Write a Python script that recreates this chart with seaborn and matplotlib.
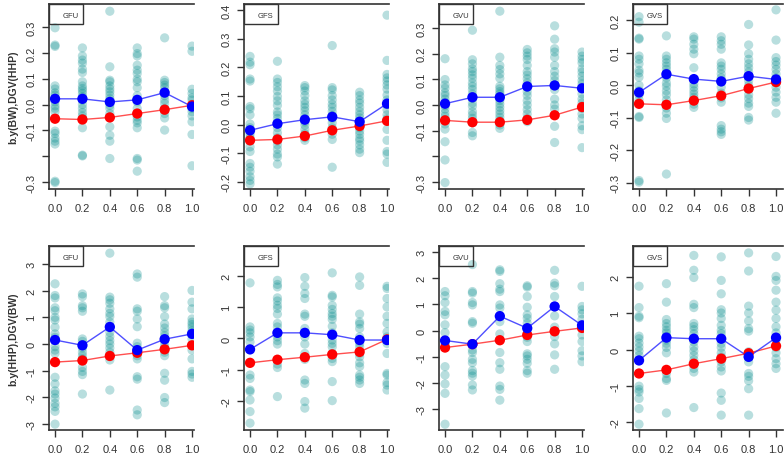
import numpy as np
import pandas as pd
import matplotlib
matplotlib.use("Agg")
import matplotlib.pyplot as plt
import seaborn as sns
from matplotlib.patches import Rectangle

# x levels shared by every panel
levels = [0.0, 0.2, 0.4, 0.6, 0.8, 1.0]
groups = ["GFU", "GFS", "GVU", "GVS"]

# ---- top row: b.y(BW),DGV(HHP) ----
top_gfu = [
    [0.297, 0.23, 0.225, 0.072, 0.060, 0.045, 0.036, 0.023, 0.010, -0.005, -0.015, -0.028, -0.103, -0.112, -0.130, -0.142, -0.153, -0.297, -0.302],
    [0.219, 0.188, 0.172, 0.16, 0.137, 0.124, 0.088, 0.072, 0.062, 0.054, 0.043, 0.03, 0.017, 0.0, -0.015, -0.031, -0.044, -0.054, -0.09, -0.196, -0.199],
    [0.361, 0.146, 0.094, 0.088, 0.072, 0.06, 0.049, 0.036, 0.023, 0.01, -0.003, -0.015, -0.035, -0.048, -0.086, -0.119, -0.142, -0.209],
    [0.219, 0.197, 0.188, 0.152, 0.133, 0.12, 0.098, 0.088, 0.065, 0.034, 0.01, -0.015, -0.048, -0.061, -0.071, -0.09, -0.209, -0.215, -0.258],
    [0.258, 0.094, 0.085, 0.075, 0.065, 0.049, 0.034, 0.017, 0.004, -0.015, -0.035, -0.052, -0.099],
    [0.226, 0.206, 0.059, 0.043, 0.026, 0.017, 0.0, -0.015, -0.028, -0.044, -0.067, -0.116, -0.237],
]
top_gfs = [
    [0.238, 0.218, 0.209, 0.159, 0.152, 0.063, 0.055, 0.034, 0.002, -0.011, -0.023, -0.034, -0.046, -0.057, -0.078, -0.094, -0.136, -0.149, -0.163, -0.182, -0.195, -0.207],
    [0.221, 0.159, 0.147, 0.132, 0.117, 0.098, 0.083, 0.067, 0.044, 0.034, 0.021, 0.006, -0.011, -0.029, -0.046, -0.057, -0.071, -0.086, -0.103, -0.113, -0.138],
    [0.136, 0.129, 0.117, 0.101, 0.083, 0.071, 0.06, 0.048, 0.034, 0.021, 0.009, -0.002, -0.017, -0.032, -0.046, -0.055],
    [0.276, 0.129, 0.121, 0.101, 0.086, 0.071, 0.06, 0.046, 0.032, 0.021, 0.006, -0.011, -0.034, -0.052, -0.149],
    [0.113, 0.101, 0.086, 0.075, 0.06, 0.046, 0.034, 0.023, 0.011, 0.0, -0.011, -0.023, -0.034, -0.048, -0.057, -0.071, -0.086, -0.098],
    [0.382, 0.224, 0.175, 0.163, 0.152, 0.138, 0.124, 0.103, 0.086, 0.069, 0.052, 0.034, 0.021, -0.017, -0.055, -0.094, -0.103, -0.132],
]
top_gvu = [
    [0.18, 0.099, 0.078, 0.065, 0.047, 0.037, 0.023, 0.01, -0.003, -0.016, -0.031, -0.044, -0.057, -0.074, -0.094, -0.143, -0.214, -0.302],
    [0.291, 0.176, 0.16, 0.141, 0.13, 0.117, 0.104, 0.086, 0.073, 0.06, 0.043, 0.026, 0.008, -0.005, -0.026, -0.039, -0.052, -0.07, -0.107, -0.12],
    [0.365, 0.186, 0.154, 0.138, 0.121, 0.104, 0.073, 0.063, 0.052, 0.043, 0.03, 0.017, 0.004, -0.009, -0.022, -0.035, -0.048, -0.061, -0.078, -0.091],
    [0.216, 0.203, 0.19, 0.177, 0.154, 0.13, 0.117, 0.102, 0.086, 0.069, 0.052, 0.037, 0.017, 0.0, -0.018, -0.035, -0.052, -0.065],
    [0.308, 0.256, 0.219, 0.206, 0.186, 0.154, 0.13, 0.112, 0.095, 0.078, 0.06, 0.023, 0.0, -0.016, -0.083, -0.146],
    [0.206, 0.19, 0.177, 0.164, 0.141, 0.128, 0.112, 0.095, 0.082, 0.065, 0.043, 0.023, 0.008, -0.013, -0.035, -0.052, -0.081, -0.096, -0.166],
]
top_gvs = [
    [0.211, 0.194, 0.145, 0.142, 0.09, 0.08, 0.066, 0.046, 0.038, 0.025, 0.0, -0.017, -0.029, -0.045, -0.096, -0.099, -0.293, -0.298],
    [0.152, 0.09, 0.08, 0.069, 0.059, 0.049, 0.038, 0.023, 0.007, -0.003, -0.017, -0.029, -0.045, -0.058, -0.07, -0.086, -0.102, -0.273],
    [0.149, 0.142, 0.126, 0.111, 0.097, 0.054, 0.018, 0.004, -0.006, -0.017, -0.027, -0.037, -0.048, -0.058, -0.068],
    [0.149, 0.137, 0.126, 0.111, 0.069, 0.059, 0.049, 0.035, 0.023, 0.01, -0.006, -0.024, -0.039, -0.052, -0.124, -0.135, -0.143, -0.151],
    [0.187, 0.124, 0.097, 0.08, 0.066, 0.054, 0.041, 0.025, 0.014, 0.0, -0.013, -0.029, -0.041, -0.055, -0.065, -0.099, -0.107],
    [0.232, 0.139, 0.085, 0.073, 0.062, 0.049, 0.035, 0.023, 0.007, -0.006, -0.021, -0.037, -0.052, -0.086],
]
top_blue = {
    "GFU": [0.022, 0.022, 0.010, 0.018, 0.046, -0.008],
    "GFS": [-0.020, 0.003, 0.017, 0.027, 0.010, 0.073],
    "GVU": [0.005, 0.030, 0.030, 0.072, 0.076, 0.065],
    "GVS": [-0.022, 0.034, 0.019, 0.012, 0.028, 0.018],
}
top_red = {
    "GFU": [-0.055, -0.058, -0.050, -0.035, -0.020, -0.003],
    "GFS": [-0.055, -0.052, -0.040, -0.020, -0.005, 0.013],
    "GVU": [-0.060, -0.067, -0.067, -0.058, -0.040, -0.008],
    "GVS": [-0.057, -0.060, -0.047, -0.032, -0.010, 0.010],
}

# ---- bottom row: b.y(HHP),DGV(BW) ----
bot_gfu = [
    [2.26, 1.82, 1.73, 1.36, 1.25, 1.0, 0.9, 0.63, 0.38, 0.25, 0.13, -0.1, -0.23, -0.35, -1.25, -1.5, -1.76, -1.88, -2.03, -2.23, -2.36, -2.53, -3.01],
    [1.88, 1.78, 1.44, 1.36, 1.23, 0.19, 0.1, -0.03, -0.15, -0.31, -0.44, -0.56, -0.88, -1.03, -1.15, -1.88],
    [3.41, 1.76, 1.66, 1.53, 1.32, 1.15, 1.03, 0.82, 0.63, 0.44, 0.28, 0.13, 0.0, -0.15, -0.31, -0.44, -0.6, -1.73],
    [2.63, 2.51, 1.32, 1.23, 0.94, 0.65, 0.03, -0.1, -0.28, -0.44, -0.56, -1.23, -1.32, -2.48, -2.66],
    [1.78, 1.44, 1.36, 1.03, 0.75, 0.6, 0.44, 0.31, 0.15, 0.0, -0.13, -0.31, -0.44, -1.1, -1.36, -2.01, -2.2],
    [2.01, 1.57, 1.32, 0.94, 0.82, 0.73, 0.63, 0.5, 0.35, 0.19, -0.06, -0.23, -0.56, -1.03, -1.13, -1.25],
]
bot_gfs = [
    [1.78, 0.37, 0.27, 0.18, 0.05, -0.11, -1.17, -1.28, -1.65, -1.7, -1.97, -2.34, -2.71],
    [1.86, 1.73, 1.65, 1.3, 1.2, 1.06, 0.96, 0.78, 0.48, 0.37, 0.05, -0.07, -0.18, -0.82, -0.93, -1.86],
    [1.95, 1.67, 1.44, 1.28, 0.78, 0.71, 0.32, 0.18, 0.05, -0.18, -0.48, -0.67, -1.33, -1.44, -2.02, -2.23],
    [2.1, 1.38, 1.33, 1.06, 0.93, 0.8, 0.71, 0.61, 0.39, 0.18, -0.05, -0.16, -0.27, -0.48, -0.64, -0.74, -1.38, -1.99],
    [1.97, 1.7, 0.78, 0.53, 0.46, 0.32, 0.05, -0.05, -0.16, -0.27, -0.48, -0.59, -0.78, -0.9, -1.17, -1.24, -1.33, -1.44],
    [1.67, 1.6, 1.28, 1.01, 0.71, 0.48, 0.21, 0.05, -0.16, -0.48, -1.12, -1.17, -1.41, -1.49, -1.65],
]
bot_gvu = [
    [1.49, 1.33, 1.07, 0.73, 0.6, 0.22, -0.08, -0.49, -1.38, -1.7, -2.04, -2.4, -3.58],
    [2.52, 1.49, 1.43, 1.07, 0.98, 0.34, 0.28, -0.74, -0.84, -1.1, -1.23, -1.53, -1.63, -1.74, -2.08, -2.27],
    [2.32, 2.26, 1.79, 1.58, 1.49, 0.98, 0.86, 0.34, -0.13, -0.36, -0.84, -1.23, -1.48, -2.12, -2.25, -2.66],
    [1.71, 1.66, 1.3, 0.89, 0.6, 0.47, 0.28, 0.09, -0.1, -0.26, -0.42, -0.89, -0.97, -1.1, -1.25, -1.53, -1.63],
    [2.3, 1.81, 1.71, 1.3, 0.92, 0.56, 0.13, -0.23, -0.51, -0.93, -1.48],
    [1.69, 0.92, 0.79, 0.64, 0.43, 0.15, -0.17, -0.42, -0.77, -0.97, -1.19],
]
bot_gvs = [
    [1.75, 1.16, 0.92, 0.88, 0.37, 0.3, 0.18, 0.07, -0.04, -0.16, -0.28, -1.01, -1.1, -1.17, -1.35, -1.63, -2.06],
    [1.82, 1.31, 0.83, 0.72, 0.63, 0.53, 0.46, 0.37, 0.26, 0.17, 0.06, -0.09, -0.66, -0.8, -0.85, -1.75],
    [2.6, 2.19, 1.99, 1.25, 1.16, 0.72, 0.64, 0.55, 0.44, 0.3, 0.21, 0.07, -0.04, -0.16, -0.28, -0.39, -0.52, -0.62, -1.6],
    [2.56, 1.91, 1.54, 1.1, 1.01, 0.86, 0.67, 0.53, 0.44, 0.3, 0.17, 0.06, -0.09, -0.2, -0.34, -0.48, -0.59, -1.2, -1.4, -1.81],
    [2.67, 2.17, 1.2, 1.01, 0.79, 0.58, 0.51, -0.06, -0.22, -0.34, -0.66, -0.74, -0.86, -1.08, -1.81],
    [2.57, 2.02, 1.91, 1.64, 1.31, 1.09, 0.86, 0.63, 0.46, 0.26, 0.06, -0.09, -0.25, -0.39, -0.52],
]
bot_blue = {
    "GFU": [0.15, -0.05, 0.64, -0.23, 0.18, 0.38],
    "GFS": [-0.35, 0.18, 0.18, 0.12, -0.05, -0.05],
    "GVU": [-0.38, -0.52, 0.55, 0.09, 0.92, 0.20],
    "GVS": [-0.30, 0.33, 0.30, 0.30, -0.20, 0.33],
}
bot_red = {
    "GFU": [-0.68, -0.62, -0.45, -0.33, -0.20, -0.05],
    "GFS": [-0.78, -0.68, -0.60, -0.51, -0.43, -0.03],
    "GVU": [-0.65, -0.52, -0.37, -0.17, -0.03, 0.10],
    "GVS": [-0.66, -0.56, -0.39, -0.25, -0.10, 0.10],
}

# axis ranges / ticks
top_ylim = {"GFU": (-0.327, 0.389), "GFS": (-0.225, 0.421), "GVU": (-0.327, 0.393), "GVS": (-0.319, 0.25)}
top_ticks = {"GFU": [-0.3, -0.2, -0.1, 0.0, 0.1, 0.2, 0.3], "GFS": [-0.2, -0.1, 0.0, 0.1, 0.2, 0.3, 0.4],
             "GVU": [-0.3, -0.2, -0.1, 0.0, 0.1, 0.2, 0.3], "GVS": [-0.3, -0.2, -0.1, 0.0, 0.1, 0.2]}
top_skip = {"GFU": [-0.2], "GFS": [], "GVU": [-0.2], "GVS": []}
bot_ylim = {"GFU": (-3.23, 3.68), "GFS": (-2.93, 2.96), "GVU": (-3.8, 3.23), "GVS": (-2.22, 2.86)}
bot_ticks = {"GFU": [-3, -2, -1, 0, 1, 2, 3], "GFS": [-2, -1, 0, 1, 2],
             "GVU": [-3, -2, -1, 0, 1, 2, 3], "GVS": [-2, -1, 0, 1, 2]}

top_pts = {"GFU": top_gfu, "GFS": top_gfs, "GVU": top_gvu, "GVS": top_gvs}
bot_pts = {"GFU": bot_gfu, "GFS": bot_gfs, "GVU": bot_gvu, "GVS": bot_gvs}


def long_frame(pts):
    rows = [(x, v) for x, vals in zip(levels, pts) for v in vals]
    return pd.DataFrame(rows, columns=["x", "y"])


sns.set_style("white")
plt.rcParams["font.family"] = ["Liberation Sans", "DejaVu Sans"]

W, H = 784, 456
fig = plt.figure(figsize=(W / 100, H / 100), dpi=100)

ink = "#333333"
teal = "#008B8B"
col_left = [49, 244, 439, 633]
unit = 137.0
rows_px = [(5, 190), (247, 431)]


def fmt(v, bottom):
    if bottom:
        return "%d" % v
    return "%.1f" % v


for r, (ypts, blue, red, ylims, ticks, ylab) in enumerate([
        (top_pts, top_blue, top_red, top_ylim, top_ticks, "b.y(BW),DGV(HHP)"),
        (bot_pts, bot_blue, bot_red, bot_ylim, bot_ticks, "b.y(HHP),DGV(BW)")]):
    ytop, ybot = rows_px[r]
    for c, g in enumerate(groups):
        xmin = -0.044
        xmax = 1.012 if c < 3 else 1.05
        wpx = (xmax - xmin) * unit
        ax = fig.add_axes([col_left[c] / W, 1 - ybot / H, wpx / W, (ybot - ytop) / H])

        df = long_frame(ypts[g])
        sns.scatterplot(data=df, x="x", y="y", ax=ax, color=teal, alpha=0.28,
                        s=44, edgecolor="none", legend=False)
        mdf = pd.DataFrame({"x": levels, "red": red[g], "blue": blue[g]})
        sns.lineplot(data=mdf, x="x", y="red", ax=ax, color="#ff3030", lw=1.0, alpha=0.85)
        sns.scatterplot(data=mdf, x="x", y="red", ax=ax, color="#ff0000", s=55,
                        edgecolor="none", legend=False, zorder=4)
        sns.lineplot(data=mdf, x="x", y="blue", ax=ax, color="#3030ff", lw=1.0, alpha=0.85)
        sns.scatterplot(data=mdf, x="x", y="blue", ax=ax, color="#0000ff", s=55,
                        edgecolor="none", legend=False, zorder=5)

        ax.set_xlim(xmin, xmax)
        ax.set_ylim(*ylims[g])
        ax.set_xticks(levels)
        ax.set_xticklabels(["%.1f" % v for v in levels])
        tk = ticks[g]
        ax.set_yticks(tk)
        skip = top_skip[g] if r == 0 else []
        ax.set_yticklabels(["" if v in skip else fmt(v, r == 1) for v in tk],
                           rotation=90, va="center")
        ax.tick_params(axis="both", direction="out", length=5, width=1.0,
                       color=ink, labelcolor=ink, labelsize=8,
                       bottom=True, left=True)
        ax.tick_params(axis="x", pad=5)
        ax.tick_params(axis="y", pad=4)
        ax.set_xlabel("")
        ax.set_ylabel("")
        for side in ["left", "top", "bottom"]:
            ax.spines[side].set_color(ink)
            ax.spines[side].set_linewidth(1.2)
        ax.spines["right"].set_visible(False)

        # small label box in the top-left corner
        bw, bh = 34 / wpx, 20 / (ybot - ytop)
        ax.add_patch(Rectangle((0, 1 - bh), bw, bh, transform=ax.transAxes,
                               fill=False, ec=ink, lw=1.0, zorder=6, clip_on=False))
        ax.text(21.5 / wpx, 1 - 11 / (ybot - ytop), g, transform=ax.transAxes,
                ha="center", va="center", fontsize=5.5, color=ink, zorder=7)

        if c == 0:
            ax.set_ylabel(ylab, fontsize=7.5, fontweight="bold", color=ink)
            ax.yaxis.set_label_coords((18 - 49) / wpx, 0.5)

fig.savefig("out.png", dpi=100)
